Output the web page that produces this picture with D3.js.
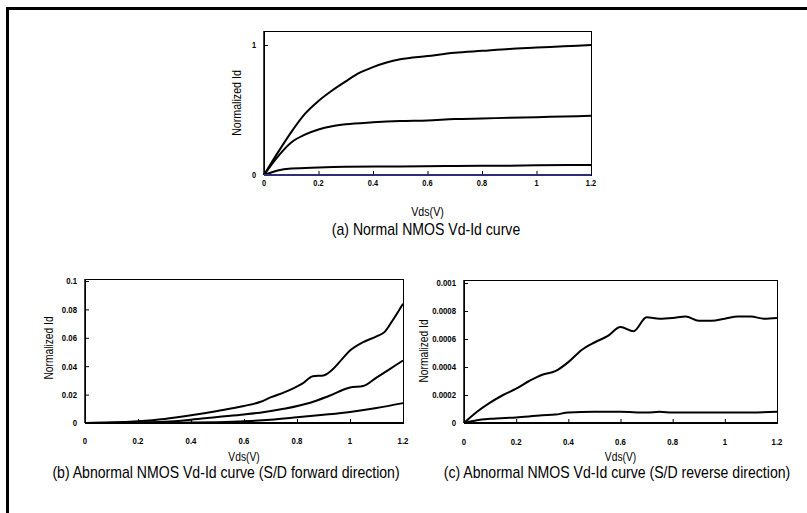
<!DOCTYPE html>
<html>
<head>
<meta charset="utf-8">
<script src="https://cdn.jsdelivr.net/npm/d3@7"></script>
<style>
  body { margin: 0; background: #fff; }
  svg { display: block; }
  text { font-family: "Liberation Sans", Arial, sans-serif; fill: #000; }
</style>
</head>
<body>
<svg id="chart" width="807" height="513"></svg>
<script>
// Vds axis ticks shared by all three panels
const vdsTicks = [0, 0.2, 0.4, 0.6, 0.8, 1, 1.2];

// (a) normal NMOS: [Vds, normalized Id]
const normalHigh = [[0,0],[0.05,0.17],[0.1,0.33],[0.15,0.47],[0.2,0.57],[0.25,0.65],[0.3,0.72],[0.35,0.785],[0.4,0.83],[0.45,0.865],[0.5,0.89],[0.6,0.915],[0.7,0.94],[0.8,0.955],[0.9,0.97],[1.0,0.98],[1.1,0.99],[1.2,1.0]];
const normalMid = [[0,0],[0.05,0.14],[0.1,0.25],[0.15,0.31],[0.2,0.35],[0.25,0.375],[0.3,0.39],[0.4,0.405],[0.5,0.415],[0.6,0.42],[0.7,0.43],[0.8,0.435],[0.9,0.44],[1.0,0.445],[1.1,0.45],[1.2,0.455]];
const normalLow = [[0,0],[0.05,0.035],[0.1,0.05],[0.2,0.058],[0.3,0.063],[0.5,0.066],[0.7,0.07],[0.9,0.072],[1.0,0.075],[1.2,0.077]];
const normalZero = [[0,0],[1.2,0]];
const normalYTicks = [0, 1];

// (b) abnormal, S/D forward
const fwdHigh = [[0,0],[0.1,0.0003],[0.2,0.0012],[0.3,0.0028],[0.4,0.0054],[0.5,0.0085],[0.6,0.012],[0.66,0.0148],[0.7,0.018],[0.77,0.023],[0.82,0.0277],[0.86,0.033],[0.9,0.0335],[0.93,0.037],[0.97,0.045],[1.0,0.051],[1.05,0.057],[1.1,0.061],[1.13,0.064],[1.16,0.072],[1.2,0.084]];
const fwdMid = [[0,0],[0.2,0.0005],[0.3,0.0009],[0.4,0.0023],[0.5,0.0042],[0.6,0.006],[0.66,0.0073],[0.75,0.01],[0.85,0.0143],[0.92,0.019],[1.0,0.025],[1.05,0.026],[1.1,0.032],[1.15,0.038],[1.2,0.044]];
const fwdLow = [[0,0],[0.3,0.0001],[0.4,0.0003],[0.5,0.0006],[0.6,0.0012],[0.7,0.0023],[0.8,0.004],[0.9,0.0058],[1.0,0.0078],[1.1,0.0105],[1.2,0.014]];
const fwdYTicks = [0, 0.02, 0.04, 0.06, 0.08, 0.1];

// (c) abnormal, S/D reverse
const revHigh = [[0,0],[0.05,0.00008],[0.1,0.000145],[0.15,0.0002],[0.2,0.000245],[0.25,0.0003],[0.3,0.000345],[0.35,0.00037],[0.4,0.000435],[0.45,0.00052],[0.5,0.000575],[0.55,0.00062],[0.6,0.000685],[0.65,0.000655],[0.7,0.000755],[0.75,0.000745],[0.8,0.00075],[0.85,0.00076],[0.9,0.00073],[0.95,0.00073],[1.0,0.000745],[1.05,0.00076],[1.1,0.00076],[1.15,0.000745],[1.2,0.00075]];
const revLow = [[0,0],[0.05,0.00002],[0.1,0.00003],[0.2,0.00004],[0.3,0.000055],[0.35,0.00006],[0.4,0.000075],[0.5,0.00008],[0.6,0.00008],[0.7,0.000075],[0.75,0.00008],[0.8,0.000075],[0.9,0.000075],[1.0,0.000075],[1.1,0.000075],[1.2,0.00008]];
const revYTicks = [0, 0.0002, 0.0004, 0.0006, 0.0008, 0.001];

const svg = d3.select("#chart");

// squeeze Liberation Sans horizontally so it reads like a narrow face
function label(parent, x, y, str, size, opts = {}) {
  const rot = opts.rotate ? " rotate(-90)" : "";
  const sx = opts.squeeze || 0.82;
  return parent.append("text")
      .attr("transform", `translate(${x},${y})${rot} scale(${sx},1)`)
      .attr("text-anchor", opts.anchor || "middle")
      .attr("font-size", size)
      .attr("font-weight", opts.bold ? "bold" : null)
      .text(str);
}

// outer frame: only top and left edges
svg.append("line").attr("x1", 6).attr("x2", 807).attr("y1", 8.5).attr("y2", 8.5)
    .attr("stroke", "#000").attr("stroke-width", 3);
svg.append("line").attr("x1", 7.5).attr("x2", 7.5).attr("y1", 7).attr("y2", 513)
    .attr("stroke", "#000").attr("stroke-width", 3);

const panels = [
  { left: 264, right: 591, top: 31, bottom: 175, yTop: 45, yMax: 1, yTicks: normalYTicks,
    series: [normalHigh, normalMid, normalLow], zero: normalZero, zeroColor: "#2e2e78",
    tickSize: 9, tickY: 186, labelSize: 13, vdsY: 215.5, ylabX: 241, ylabY: 103,
    title: "(a) Normal NMOS Vd-Id curve", titleX: 426, titleY: 235 },
  { left: 85, right: 403, top: 279, bottom: 423, yTop: 281, yMax: 0.1, yTicks: fwdYTicks,
    series: [fwdHigh, fwdMid, fwdLow], zero: null,
    tickSize: 9.5, tickY: 444, labelSize: 12.5, vdsY: 461, ylabX: 53, ylabY: 348,
    title: "(b) Abnormal NMOS Vd-Id curve (S/D forward direction)", titleX: 226, titleY: 478 },
  { left: 464, right: 777, top: 280, bottom: 423, yTop: 283, yMax: 0.001, yTicks: revYTicks,
    series: [revHigh, revLow], zero: null,
    tickSize: 9.5, tickY: 445, labelSize: 12.5, vdsY: 461, ylabX: 428, ylabY: 351,
    title: "(c) Abnormal NMOS Vd-Id curve (S/D reverse direction)", titleX: 617, titleY: 478 }
];

panels.forEach(p => {
  const x = d3.scaleLinear().domain([0, 1.2]).range([p.left, p.right]);
  const y = d3.scaleLinear().domain([0, p.yMax]).range([p.bottom, p.yTop]);
  const g = svg.append("g");

  // plot frame
  g.append("rect")
      .attr("x", p.left + 0.5).attr("y", p.top + 0.5)
      .attr("width", p.right - p.left).attr("height", p.bottom - p.top)
      .attr("fill", "none").attr("stroke", "#000").attr("stroke-width", 1);

  // inward ticks
  const xAxis = d3.axisBottom(x).tickValues(vdsTicks).tickSize(-4);
  const xg = g.append("g").attr("transform", `translate(0,${p.bottom})`).call(xAxis);
  xg.select(".domain").remove();
  xg.selectAll("text").remove();

  const yAxis = d3.axisLeft(y).tickValues(p.yTicks).tickSize(-4);
  const yg = g.append("g").attr("transform", `translate(${p.left},0)`).call(yAxis);
  yg.select(".domain").remove();
  yg.selectAll("text").remove();
  g.selectAll(".tick line").attr("stroke", "#000");

  // tick labels
  vdsTicks.forEach(d => label(g, x(d), p.tickY, d3.format("~g")(d), p.tickSize, { bold: true }));
  p.yTicks.forEach(d => label(g, p.left - 8, y(d) + p.tickSize * 0.36,
      d === 0 ? "0" : String(+d.toPrecision(6)), p.tickSize, { bold: true, anchor: "end" }));

  // axis lines
  g.append("line").attr("x1", p.left).attr("x2", p.right).attr("y1", p.bottom).attr("y2", p.bottom)
      .attr("stroke", "#000").attr("stroke-width", 2);
  g.append("line").attr("x1", p.left).attr("x2", p.left).attr("y1", p.top).attr("y2", p.bottom)
      .attr("stroke", "#000").attr("stroke-width", 1.5);

  const line = d3.line().x(d => x(d[0])).y(d => y(d[1])).curve(d3.curveMonotoneX);
  g.selectAll(".curve").data(p.series).join("path")
      .attr("fill", "none").attr("stroke", "#000").attr("stroke-width", 2)
      .attr("d", line);
  if (p.zero) {
    g.append("path").attr("fill", "none").attr("stroke", p.zeroColor).attr("stroke-width", 2)
        .attr("d", line(p.zero));
  }

  // labels
  label(g, (p.left + p.right) / 2, p.vdsY, "Vds(V)", p.labelSize);
  label(g, p.ylabX, p.ylabY, "Normalized Id", p.labelSize, { rotate: true });
  label(g, p.titleX, p.titleY, p.title, 16, { squeeze: 0.88 });
});
</script>
</body>
</html>
